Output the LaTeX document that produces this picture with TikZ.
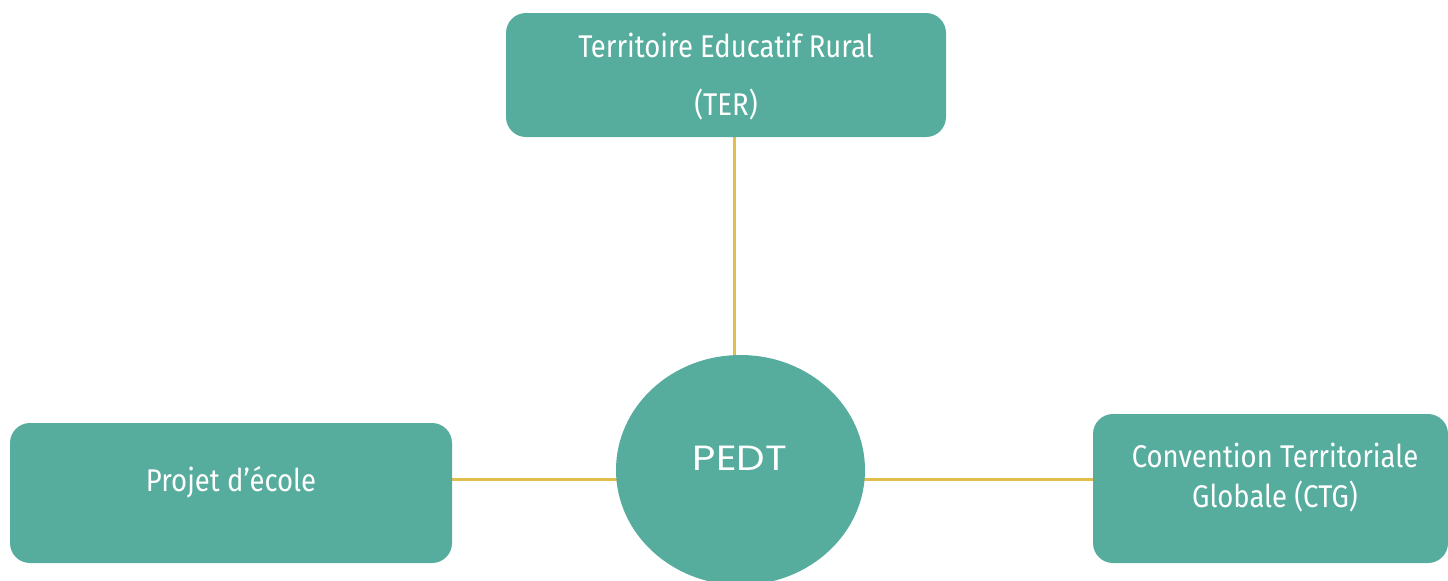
\documentclass[tikz,border=0pt]{standalone}
\usepackage{fontspec}
\setmainfont{Fira Sans}[FakeStretch=0.875]
\newfontfamily\pedtfont{Poppins}[FakeStretch=1.15]
\usetikzlibrary{shapes.geometric,backgrounds}
\definecolor{teal1}{HTML}{56AC9D}
\definecolor{gold1}{HTML}{E2BF4C}
\tikzset{
  box/.style={fill=teal1, rounded corners=10pt, inner sep=0pt},
  txt/.style={text=white, align=center, inner sep=0pt, font=\fontsize{15.7}{20}\selectfont},
  link/.style={draw=gold1, line width=1.5pt}
}
\begin{document}
\begin{tikzpicture}[x=0.5pt,y=-0.5pt]
\useasboundingbox (0,0) rectangle (1448,580);
\node[box, minimum width=220pt, minimum height=62pt] (ter) at (726,75) {};
\node[txt, font=\fontsize{15.7}{29}\selectfont] (tertxt) at (726,77) {Territoire Educatif Rural\\(TER)};
\node[box, minimum width=221pt, minimum height=70pt] (ecole) at (231,493) {};
\node[txt] (ecoletxt) at (231,482) {Projet d’école};
\node[box, minimum width=177.5pt, minimum height=74.5pt] (ctg) at (1270.5,488.5) {};
\node[txt] (ctgtxt) at (1275,478) {Convention Territoriale\\Globale (CTG)};
\node[ellipse, fill=teal1, inner sep=0pt, minimum width=124.5pt, minimum height=115pt] (pedt) at (740.5,470) {};
\node[text=white, inner sep=0pt, font=\pedtfont\fontsize{17.5}{20}\selectfont] (pedttxt) at (740,458) {PEDT};
\coordinate (vx) at (734,0);
\coordinate (hy) at (0,479);
\begin{scope}[on background layer]
\draw[link] (ter.south -| vx) -- (pedt.center -| vx);
\draw[link] (ecole.east |- hy) -- (pedt.center |- hy);
\draw[link] (pedt.center |- hy) -- (ctg.west |- hy);
\end{scope}
\end{tikzpicture}
\end{document}
